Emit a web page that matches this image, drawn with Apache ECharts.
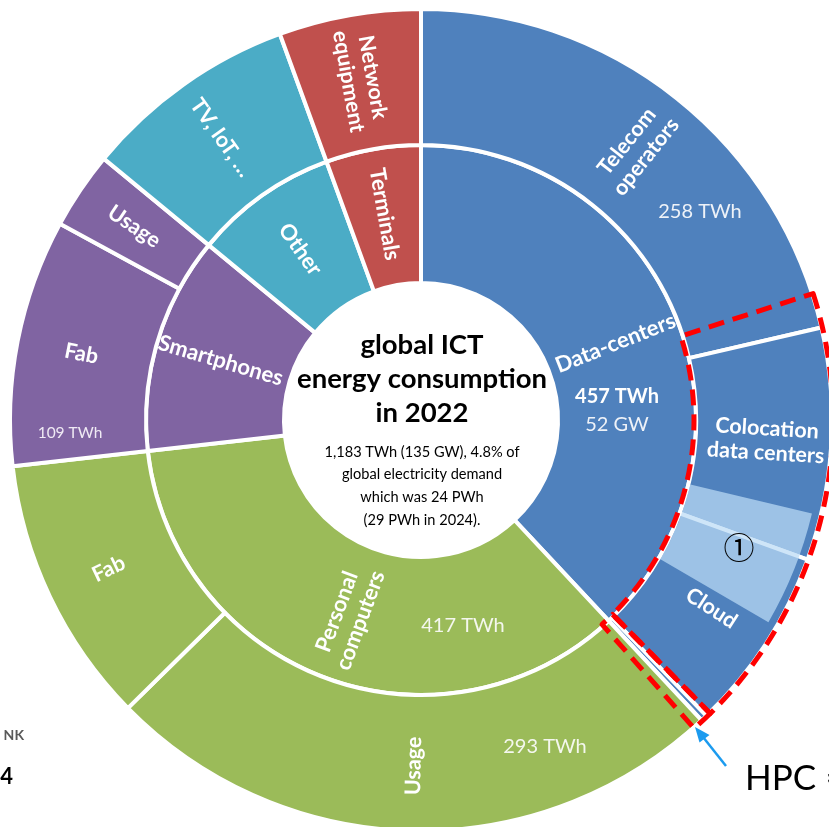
<!DOCTYPE html>
<html><head><meta charset="utf-8">
<script src="https://cdn.jsdelivr.net/npm/echarts@6/dist/echarts.min.js"></script>
<style>html,body{margin:0;padding:0;background:#fff;overflow:hidden}#c{width:829px;height:827px}</style>
</head><body><div id="c"></div>
<script>
// ---- data (TWh) ----
const innerNames  = ['Data-centers', 'Personal\ncomputers', 'Smartphones', 'Other', 'Terminals'];
const innerValues = [450, 416, 151, 100, 66];
const innerColors = ['#4F81BD', '#9BBB59', '#8064A2', '#4BACC6', '#C0504D'];

const outerNames  = ['Telecom\noperators', 'Colocation\ndata centers', 'Cloud', 'HPC', 'Usage', 'Fab', 'Fab', 'Usage', 'TV, IoT, …', 'Network\nequipment'];
const outerValues = [253, 108, 86, 3, 291, 125, 115, 36, 100, 66];
const outerParent = [0, 0, 0, 0, 1, 1, 2, 2, 3, 4];

// light-blue share (①) laid over Colocation / Cloud
const shareNames  = ['', '①', ''];
const shareValues = [340, 55, 788];

// red dashed highlight spans
const boxValues = [237, 208, 10, 728];

const valueTexts = ['457 TWh', '52 GW', '258 TWh', '417 TWh', '293 TWh', '109 TWh'];
const titleLines = ['global ICT', 'energy consumption', 'in 2022'];
const noteLines  = ['1,183 TWh (135 GW), 4.8% of', 'global electricity demand', 'which was 24 PWh', '(29 PWh in 2024).'];

// ---- chart ----
const FONT = 'Lato, "Open Sans", sans-serif';
const C = [421, 420];
const chart = echarts.init(document.getElementById('c'), null, {renderer: 'canvas'});

const ringLabel = (size) => ({
  show: true, position: 'inside', rotate: 'radial', color: '#fff',
  fontFamily: FONT, fontSize: size, fontWeight: 'bold', lineHeight: size + 3,
  formatter: p => p.name
});

const innerData = innerNames.map((n, i) => ({name: n, value: innerValues[i], itemStyle: {color: innerColors[i]}}));
const outerData = outerNames.map((n, i) => ({
  name: n, value: outerValues[i],
  itemStyle: {color: innerColors[outerParent[i]]},
  label: n === 'HPC' ? {show: false} : undefined
}));
const shareData = shareNames.map((n, i) => ({
  name: n, value: shareValues[i],
  itemStyle: {color: n ? 'rgba(187,219,245,0.72)' : 'rgba(0,0,0,0)', borderWidth: 0},
  label: n ? {show: true} : {show: false}
}));
const boxData = boxValues.map((v, i) => ({
  name: 'b' + i, value: v,
  itemStyle: (i === 1 || i === 2)
    ? {color: 'rgba(0,0,0,0)', borderColor: '#FF0000', borderWidth: 5, borderType: [16, 9]}
    : {color: 'rgba(0,0,0,0)', borderWidth: 0}
}));

const common = {type: 'pie', center: C, startAngle: 90, clockwise: true, avoidLabelOverlap: false,
  labelLine: {show: false}, emphasis: {disabled: true}, animation: false, silent: true};

const txt = (x, y, text, size, opts) => ({
  type: 'text', x: x, y: y, silent: true, z: 100,
  style: Object.assign({text: text, fill: '#fff', font: size + 'px ' + FONT,
    textAlign: 'center', textVerticalAlign: 'middle', align: 'center', verticalAlign: 'middle'}, (opts || {}))
});

chart.setOption({
  backgroundColor: '#fff',
  series: [
    Object.assign({}, common, {
      radius: [137, 275], data: innerData,
      itemStyle: {borderColor: '#fff', borderWidth: 4},
      label: ringLabel(22)
    }),
    Object.assign({}, common, {
      radius: [275, 411], data: outerData,
      itemStyle: {borderColor: '#fff', borderWidth: 4},
      label: ringLabel(21.5)
    }),
    Object.assign({}, common, {
      radius: [277, 402], data: shareData, z: 3,
      label: {show: true, position: 'inside', rotate: 0, color: '#000', fontFamily: '"Noto Sans CJK JP", "DejaVu Sans", sans-serif', fontWeight: 'normal', fontSize: 31, formatter: p => p.name}
    }),
    Object.assign({}, common, {
      radius: [273, 412], data: boxData, z: 4, label: {show: false}
    })
  ],
  graphic: [
    txt(C[0] + 1, 379, titleLines.join('\n'), 27.5, {fill: '#000', font: 'bold 27.5px ' + FONT, lineHeight: 34}),
    txt(C[0] + 1, 486, noteLines.join('\n'), 14.6, {fill: '#000', lineHeight: 22.7}),
    txt(617, 397, valueTexts[0], 20, {font: 'bold 20px ' + FONT}),
    txt(617, 425, valueTexts[1], 20, {fill: '#eef2f8'}),
    txt(700, 212, valueTexts[2], 20, {fill: '#eef2f8'}),
    txt(463, 626, valueTexts[3], 20, {fill: '#f4f7ee'}),
    txt(545, 747, valueTexts[4], 20, {fill: '#f4f7ee'}),
    txt(70, 433, valueTexts[5], 15.5, {fill: '#efeaf4'}),
    txt(24, 735, 'NK', 14, {fill: '#595959', font: 'bold 14px ' + FONT, textAlign: 'right', align: 'right'}),
    txt(13, 777, '4', 22, {fill: '#000', font: 'bold 22px ' + FONT, textAlign: 'right', align: 'right'}),
    txt(745, 779, 'HPC ≈', 35, {fill: '#000', textAlign: 'left', align: 'left'}),
    {type: 'line', silent: true, z: 100, shape: {x1: 726, y1: 766, x2: 703, y2: 737}, style: {stroke: '#1C9BEF', lineWidth: 2.5}},
    {type: 'polygon', silent: true, z: 100, shape: {points: [[695, 727], [709.5, 735], [699.5, 742.5]]}, style: {fill: '#1C9BEF'}}
  ]
});
</script>
</body></html>
